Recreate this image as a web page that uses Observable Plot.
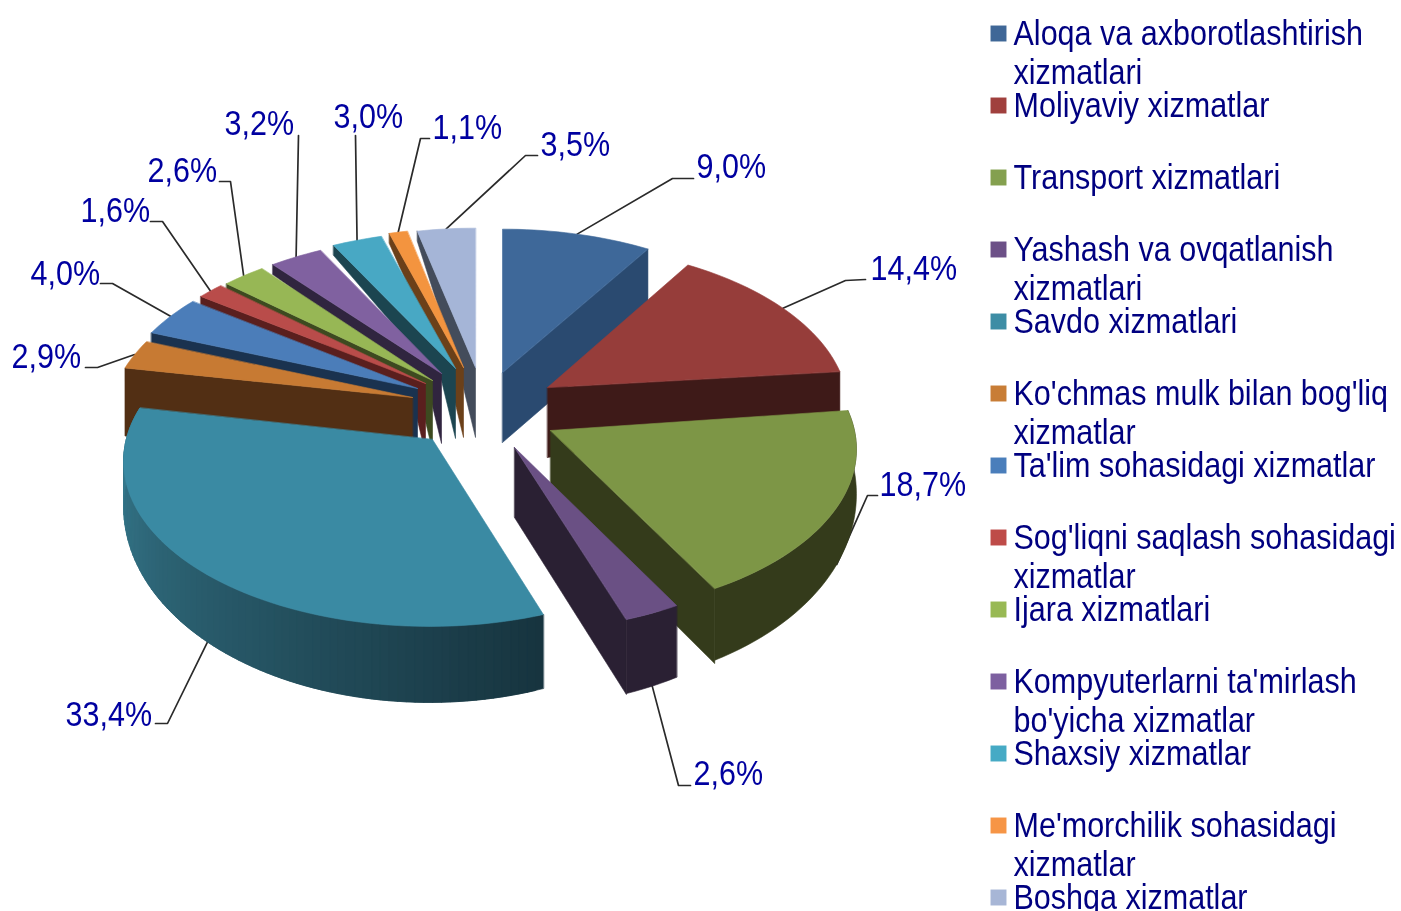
<!DOCTYPE html>
<html><head><meta charset="utf-8">
<style>html,body{margin:0;padding:0;background:#fff;overflow:hidden}</style>
<script src="https://cdn.jsdelivr.net/npm/d3@7"></script>
<script src="https://cdn.jsdelivr.net/npm/@observablehq/plot@0.6"></script>
</head><body><div id="chart"></div>
<script>
const categories = ["Aloqa va axborotlashtirish\nxizmatlari","Moliyaviy xizmatlar","Transport xizmatlari","Yashash va ovqatlanish\nxizmatlari","Savdo xizmatlari","Ko'chmas mulk bilan bog'liq\nxizmatlar","Ta'lim sohasidagi xizmatlar","Sog'liqni saqlash sohasidagi\nxizmatlar","Ijara xizmatlari","Kompyuterlarni ta'mirlash\nbo'yicha xizmatlar","Shaxsiy xizmatlar","Me'morchilik sohasidagi\nxizmatlar","Boshqa xizmatlar"];
const values = [9.0,14.4,18.7,2.6,33.4,2.9,4.0,1.6,2.6,3.2,3.0,1.1,3.5];
const topColors = ["#3e6899","#963d3a","#7d9646","#6a5084","#3a8aa3","#c77a33","#4b7db9","#b94c4a","#97b755","#8061a0","#48a8c4","#f3943f","#a5b5d7"];
const wallColors = ["#2a4a70","#3e1a18","#343b1b","#2a2033","#17343f","#522f14","#1a324f","#5a1f1e","#3d4a20","#30253f","#1c4550","#6b4019","#434c5b"];
const legendColors = ["#3f6797","#a0403d","#84a04f","#6c5087","#3d8da5","#c87d36","#4a7ebb","#be4b48","#98b954","#7d60a0","#46aac5","#f69546","#a7b6d6"];
// exploded origin of each wedge, and the nudge of its rim, in the drawing frame
const origins = [[502,372],[547,387],[550,430],[514,447],[432,439],[412,397],[417,388],[425,383],[432,380],[441,373],[455,368],[463,367],[475,367]];
const rimShifts = [[0,-1],[-5,0],[0,-4],[-2,-4],[-3,-1],[2,1],[2,1],[2,1],[1,2],[3,5],[2,5],[2,3],[0,3]];
const labelAt = [[696,166],[870,268],[879,484],[693,773],[65,714],[11,356],[30,273],[80,210],[147,170],[224,123],[333,116],[432,127],[540,144]];
const leaderEnd = [[693,178],[865,279],[877,495],[690,785],[155,723],[85,367],[100,283],[150,221],[219,181],[298,135],[355,135],[429,138],[537,155]];
const leaderElbow = [[672,178],[845,280],[867,495],[678,785],[167,723],[97,367],[112,283],[162,221],[230,181],[298,135],[355,135],[420,138],[525,155]];

const RX=303, RY=162, K=0.138, DEPTH=70;
const cum=d3.cumsum(values), total=cum[cum.length-1];
const ang=p=>p/total*2*Math.PI;
const spans=values.map((v,i)=>[ang(cum[i]-v),ang(cum[i])]);
function rim(i,t){const u=Math.sin(t),v=-Math.cos(t),s=1/(1-K*v);return [origins[i][0]+rimShifts[i][0]+RX*u*s,origins[i][1]+rimShifts[i][1]+RY*v*s];}
const rimDepth=t=>40-36*Math.cos(t);
function arc(i,a,b){const n=Math.max(2,Math.ceil((b-a)/0.03));return d3.range(n+1).map(k=>rim(i,a+(b-a)*k/n));}

const rows=[]; let pid=0;
function poly(pts,color){const id=pid++;pts.forEach(p=>rows.push({id,x:p[0],y:p[1],color}));}
function topFace(i){const [a,b]=spans[i];poly([origins[i],...arc(i,a,b)],topColors[i]);}
function edgeWall(i,t,cornerDepth){const c=rim(i,t),o=origins[i];poly([o,c,[c[0],c[1]+cornerDepth],[o[0],o[1]+DEPTH]],wallColors[i]);}
function wedgeWall(i){const c=rim(i,spans[i][0]),o=origins[i];poly([c,o,[o[0],o[1]+DEPTH],[o[0]-14,o[1]+12],[c[0],c[1]+10]],wallColors[i]);}
function rimWall(i,a,b){const top=arc(i,a,b),n=top.length-1;
  const low=top.map((p,k)=>[p[0],p[1]+rimDepth(a+(b-a)*k/n)]).reverse();
  poly([...top,...low],wallColors[i]);}
function shadedRimWall(i,a,b,shade){const n=Math.ceil((b-a)/0.025),d=(b-a)/n;
  // each band overlaps the next one, so no seam shows between them
  for(let k=0;k<n;k++){const t0=a+d*k,t1=Math.min(b,t0+d*2),p0=rim(i,t0),p1=rim(i,t1);
    poly([p0,p1,[p1[0],p1[1]+rimDepth(t1)],[p0[0],p0[1]+rimDepth(t0)]],shade(k/n));}}

// back wedges, painted far to near
edgeWall(0,spans[0][1],68); topFace(0);
for(let i=12;i>=6;i--){wedgeWall(i);topFace(i);}
edgeWall(5,spans[5][0],68); topFace(5);
const tealShade=d3.interpolateRgb("#17343f","#3a8297");
shadedRimWall(4,spans[4][0],spans[4][1],tealShade); topFace(4);
edgeWall(1,spans[1][1],40); topFace(1);
edgeWall(2,spans[2][1],75); rimWall(2,Math.PI/2-0.1,spans[2][1]); topFace(2);
edgeWall(3,spans[3][1],75); rimWall(3,spans[3][0],spans[3][1]); topFace(3);

const front=new Set([2,3,4]);
const leaders=values.flatMap((v,i)=>{const t=(spans[i][0]+spans[i][1])/2,s=rim(i,t);
  const start=[s[0],s[1]+(front.has(i)?rimDepth(t):0)];
  return [start,leaderElbow[i],leaderEnd[i]].map(p=>({i,x:p[0],y:p[1]}));});
const labels=values.map((v,i)=>({text:v.toFixed(1).replace(".",",")+"%",x:labelAt[i][0],y:labelAt[i][1]}));
const legend=categories.map((c,i)=>({c,color:legendColors[i],y:33+72*i}));

const font="'Liberation Sans',Arial,sans-serif";
const chart=Plot.plot({
  width:1401,height:911,margin:0,
  style:{background:"#fff",filter:"blur(0.6px)"},
  x:{domain:[0,1401],range:[0,1401],axis:null},
  y:{domain:[0,911],range:[0,911],axis:null},
  marks:[
    Plot.line(leaders,{x:"x",y:"y",z:"i",stroke:"#2a2a2a",strokeWidth:1.7}),
    Plot.line(rows,{x:"x",y:"y",z:"id",fill:"color",stroke:"color",strokeWidth:0.6,curve:"linear-closed"}),
    Plot.text(labels,{x:"x",y:"y",text:"text",textAnchor:"start",fontSize:35,fill:"#0000a0",fontFamily:font}),
    Plot.dot(legend,{x:()=>998,y:"y",symbol:"square",r:9,fill:"color",stroke:"none"}),
    Plot.text(legend,{x:()=>1013,y:d=>d.y-16,text:"c",textAnchor:"start",lineAnchor:"top",lineHeight:1.115,fontSize:35,fill:"#000080",fontFamily:font})
  ]
});
// the reference lettering is a horizontally squeezed sans: narrow every text in place
chart.querySelectorAll("text").forEach(t=>{
  const tr=t.getAttribute("transform")||"";
  t.setAttribute("transform",tr+" scale(0.872,1)");
});
document.getElementById("chart").append(chart);
</script></body></html>
